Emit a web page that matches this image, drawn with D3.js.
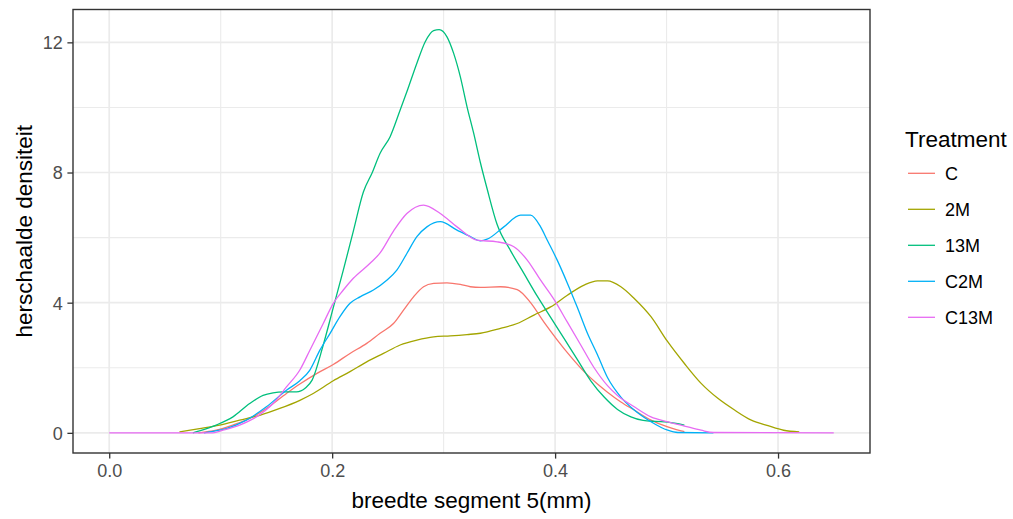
<!DOCTYPE html>
<html>
<head>
<meta charset="utf-8">
<script src="https://cdn.jsdelivr.net/npm/d3@7"></script>
<style>
  html, body { margin: 0; padding: 0; background: #fff; }
  svg { display: block; font-family: "Liberation Sans", Arial, sans-serif; }
</style>
</head>
<body>
<svg id="chart" width="1013" height="519"></svg>
<script>
// ---- data ----
const categories = ["C", "2M", "13M", "C2M", "C13M"];
const colors = ["#F8766D", "#A3A500", "#00BF7D", "#00B0F6", "#E76BF3"];

const xC = [0.08,0.096,0.111,0.126,0.141,0.159,0.171,0.186,0.201,0.216,0.231,0.243,0.255,0.264,0.273,0.282,0.291,0.303,0.315,0.324,0.333,0.351,0.366,0.378,0.390,0.402,0.414,0.426,0.438,0.447,0.459,0.471,0.486,0.501,0.513,0.516];
const yC = [0,0.08,0.24,0.44,0.75,1.21,1.5,1.82,2.1,2.44,2.75,3.06,3.36,3.77,4.18,4.49,4.59,4.61,4.56,4.49,4.47,4.49,4.4,4.0,3.4,2.85,2.34,1.88,1.5,1.25,0.95,0.7,0.39,0.18,0.06,0.04];

const x2M = [0.063,0.081,0.099,0.117,0.135,0.153,0.171,0.183,0.201,0.216,0.231,0.246,0.261,0.276,0.291,0.306,0.321,0.333,0.351,0.366,0.381,0.396,0.411,0.426,0.438,0.447,0.459,0.471,0.486,0.501,0.516,0.531,0.546,0.561,0.576,0.591,0.605,0.619];
const y2M = [0.03,0.13,0.24,0.39,0.54,0.75,1.0,1.21,1.6,1.88,2.18,2.44,2.70,2.85,2.95,2.98,3.02,3.06,3.21,3.36,3.62,3.87,4.23,4.54,4.67,4.67,4.49,4.13,3.57,2.80,2.13,1.52,1.06,0.70,0.39,0.22,0.08,0.03];

const x13M = [0.075,0.081,0.096,0.111,0.126,0.138,0.147,0.156,0.168,0.176,0.182,0.192,0.201,0.210,0.219,0.228,0.236,0.243,0.252,0.261,0.267,0.276,0.2835,0.291,0.296,0.303,0.309,0.315,0.321,0.327,0.333,0.339,0.348,0.360,0.372,0.384,0.396,0.408,0.420,0.432,0.444,0.456,0.468,0.479,0.490,0.501,0.516];
const y13M = [0,0.06,0.24,0.49,0.9,1.15,1.23,1.26,1.26,1.38,1.62,2.7,3.85,5.0,6.2,7.4,8.0,8.59,9.1,9.92,10.48,11.36,12.02,12.36,12.39,12.17,11.66,10.94,10.02,9.2,8.3,7.5,6.4,5.6,4.9,4.2,3.55,2.9,2.25,1.6,1.1,0.72,0.49,0.38,0.35,0.33,0.24];

const xC2M = [0.085,0.09,0.105,0.123,0.141,0.159,0.171,0.180,0.189,0.198,0.207,0.216,0.225,0.237,0.249,0.258,0.267,0.276,0.285,0.297,0.312,0.324,0.333,0.339,0.354,0.369,0.378,0.387,0.393,0.402,0.411,0.420,0.429,0.438,0.447,0.459,0.471,0.486,0.501,0.510,0.542];
const yC2M = [0,0.03,0.13,0.39,0.80,1.31,1.6,1.93,2.54,3.05,3.57,3.98,4.18,4.39,4.69,5.0,5.51,6.03,6.33,6.49,6.23,6.03,5.9,5.95,6.33,6.69,6.69,6.33,5.92,5.3,4.6,3.85,3.06,2.4,1.7,1.1,0.70,0.34,0.08,0.01,0];

const xC13M = [0,0.093,0.102,0.117,0.132,0.147,0.159,0.171,0.180,0.192,0.201,0.210,0.219,0.234,0.243,0.255,0.267,0.282,0.297,0.312,0.330,0.348,0.363,0.375,0.387,0.399,0.411,0.423,0.435,0.447,0.456,0.471,0.486,0.501,0.516,0.531,0.542,0.65];
const yC13M = [0,0,0.08,0.24,0.49,0.9,1.41,1.93,2.54,3.36,3.98,4.39,4.75,5.21,5.53,6.2,6.74,7.0,6.74,6.33,5.92,5.87,5.72,5.31,4.69,4.1,3.4,2.7,2.0,1.45,1.15,0.80,0.49,0.34,0.21,0.08,0.01,0];

const xTicks = [0.0, 0.2, 0.4, 0.6];
const xMinor = [0.1, 0.3, 0.5];
const yTicks = [0, 4, 8, 12];
const yMinor = [2, 6, 10];
const xTitle = "breedte segment 5(mm)";
const yTitle = "herschaalde densiteit";
const legendTitle = "Treatment";

// ---- build series ----
const xs = [xC, x2M, x13M, xC2M, xC13M];
const ys = [yC, y2M, y13M, yC2M, yC13M];
const series = categories.map((c, i) => ({
  name: c, color: colors[i],
  values: xs[i].map((x, j) => ({ x, y: ys[i][j] }))
}));

// ---- layout ----
const svg = d3.select("#chart");
const P = { left: 73, right: 870, top: 9.5, bottom: 453 };

const xMin = d3.min(xs, a => d3.min(a)), xMax = d3.max(xs, a => d3.max(a));
const yMax = d3.max(ys, a => d3.max(a)), yMin = 0;
const xr = xMax - xMin, yr = yMax - yMin;
const x = d3.scaleLinear().domain([xMin - 0.05 * xr, xMax + 0.05 * xr]).range([P.left, P.right]);
const y = d3.scaleLinear().domain([yMin - 0.05 * yr, yMax + 0.05 * yr]).range([P.bottom, P.top]);

// panel background
svg.append("rect").attr("x", P.left).attr("y", P.top)
  .attr("width", P.right - P.left).attr("height", P.bottom - P.top).attr("fill", "#fff");

const grid = svg.append("g");
// minor grid
grid.selectAll(".xm").data(xMinor).enter().append("line")
  .attr("x1", d => x(d)).attr("x2", d => x(d)).attr("y1", P.top).attr("y2", P.bottom)
  .attr("stroke", "#EBEBEB").attr("stroke-width", 1.1);
grid.selectAll(".ym").data(yMinor).enter().append("line")
  .attr("y1", d => y(d)).attr("y2", d => y(d)).attr("x1", P.left).attr("x2", P.right)
  .attr("stroke", "#EBEBEB").attr("stroke-width", 1.1);
// major grid
grid.selectAll(".xM").data(xTicks).enter().append("line")
  .attr("x1", d => x(d)).attr("x2", d => x(d)).attr("y1", P.top).attr("y2", P.bottom)
  .attr("stroke", "#EBEBEB").attr("stroke-width", 1.7);
grid.selectAll(".yM").data(yTicks).enter().append("line")
  .attr("y1", d => y(d)).attr("y2", d => y(d)).attr("x1", P.left).attr("x2", P.right)
  .attr("stroke", "#EBEBEB").attr("stroke-width", 1.7);

// curves
const line = d3.line().x(d => x(d.x)).y(d => y(d.y)).curve(d3.curveMonotoneX);
const clip = svg.append("clipPath").attr("id", "clip").append("rect")
  .attr("x", P.left).attr("y", P.top).attr("width", P.right - P.left).attr("height", P.bottom - P.top);
svg.append("g").attr("clip-path", "url(#clip)")
  .selectAll("path").data(series).enter().append("path")
  .attr("d", d => line(d.values)).attr("fill", "none")
  .attr("stroke", d => d.color).attr("stroke-width", 1.3).attr("stroke-linejoin", "round");

// panel border
svg.append("rect").attr("x", P.left).attr("y", P.top)
  .attr("width", P.right - P.left).attr("height", P.bottom - P.top)
  .attr("fill", "none").attr("stroke", "#333333").attr("stroke-width", 1.4);

// axes
const xAxis = d3.axisBottom(x).tickValues(xTicks).tickFormat(d3.format(".1f")).tickSize(5.6).tickPadding(5);
const gx = svg.append("g").attr("transform", `translate(0,${P.bottom})`).call(xAxis);
gx.select(".domain").remove();
gx.selectAll(".tick line").attr("stroke", "#333333").attr("stroke-width", 1.3);
gx.selectAll(".tick text").attr("fill", "#4D4D4D").attr("font-size", 18)
  .attr("font-family", "Liberation Sans, Arial, sans-serif").attr("dy", "0.72em");

const yAxis = d3.axisLeft(y).tickValues(yTicks).tickFormat(d3.format("d")).tickSize(5.6).tickPadding(4.6);
const gy = svg.append("g").attr("transform", `translate(${P.left},0)`).call(yAxis);
gy.select(".domain").remove();
gy.selectAll(".tick line").attr("stroke", "#333333").attr("stroke-width", 1.3);
gy.selectAll(".tick text").attr("fill", "#4D4D4D").attr("font-size", 18)
  .attr("font-family", "Liberation Sans, Arial, sans-serif").attr("dy", "0.36em");

// titles
svg.append("text").attr("x", (P.left + P.right) / 2).attr("y", 508)
  .attr("text-anchor", "middle").attr("font-size", 22.5).attr("fill", "#000").text(xTitle);
svg.append("text").attr("transform", `translate(32,${(P.top + P.bottom) / 2}) rotate(-90)`)
  .attr("text-anchor", "middle").attr("font-size", 22.5).attr("fill", "#000").text(yTitle);

// legend
const lg = svg.append("g");
lg.append("text").attr("x", 905).attr("y", 147).attr("font-size", 22.5).attr("fill", "#000").text(legendTitle);
const items = lg.selectAll(".item").data(series).enter().append("g")
  .attr("transform", (d, i) => `translate(0,${173.3 + i * 36})`);
items.append("line").attr("x1", 908).attr("x2", 935).attr("y1", 0).attr("y2", 0)
  .attr("stroke", d => d.color).attr("stroke-width", 1.3);
items.append("text").attr("x", 945).attr("y", 0).attr("dy", "0.36em")
  .attr("font-size", 18).attr("fill", "#000").text(d => d.name);
</script>
</body>
</html>
